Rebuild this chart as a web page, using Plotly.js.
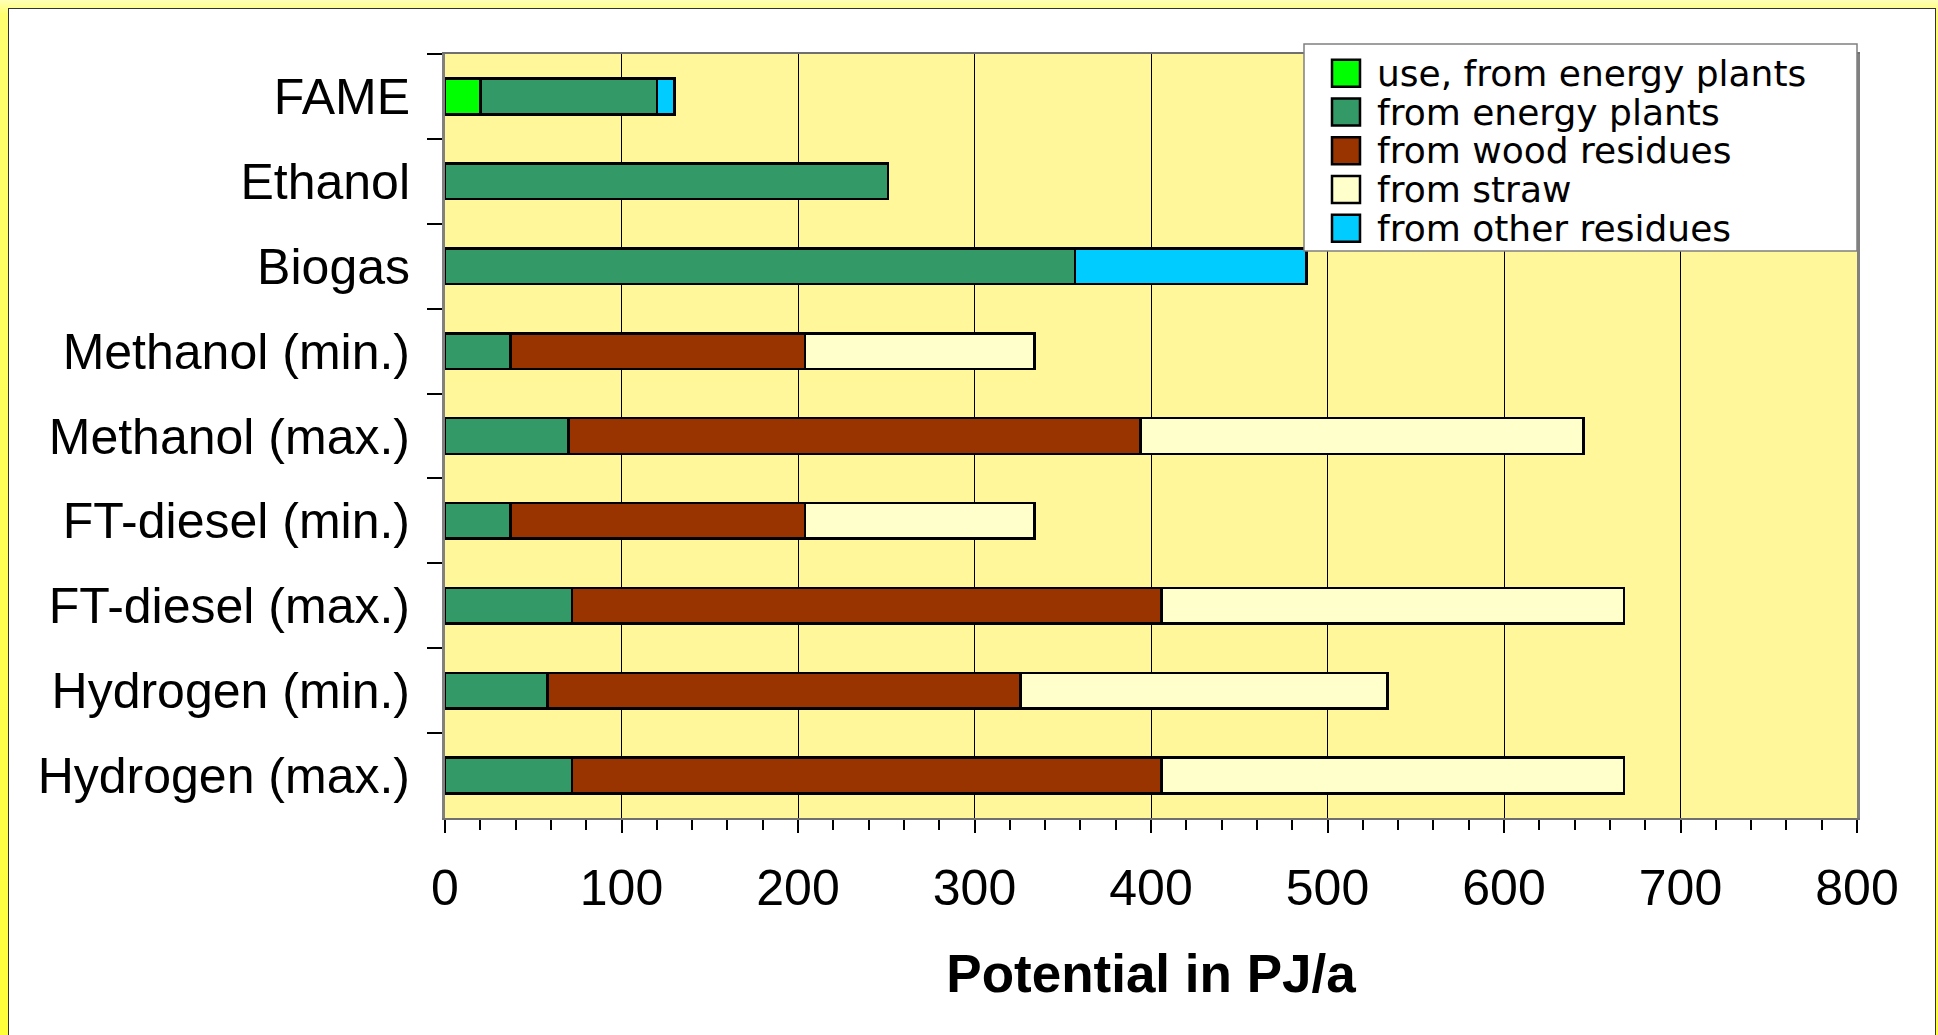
<!DOCTYPE html>
<html>
<head>
<meta charset="utf-8">
<script src="https://cdn.plot.ly/plotly-3.0.1.min.js"></script>
<style>
  html, body {
    margin: 0; padding: 0; width: 1938px; height: 1035px; overflow: hidden;
    background: linear-gradient(to bottom, #FFFFB8 0px, #FFFF70 14px, #FFFF3A 100%);
  }
  #frame {
    position: absolute; left: 8px; top: 8px; width: 1928px; height: 1027px;
    box-sizing: border-box; border: 1px solid #333; border-bottom: none; background: #fff;
  }
  #chart { position: absolute; left: 0; top: 0; }
</style>
</head>
<body>
<div id="frame"><div id="chart"></div></div>
<script>
// Fuel pathways (top to bottom)
const categories = [
  "FAME", "Ethanol", "Biogas",
  "Methanol (min.)", "Methanol (max.)",
  "FT-diesel (min.)", "FT-diesel (max.)",
  "Hydrogen (min.)", "Hydrogen (max.)"
];

// Potential in PJ/a per feedstock (null = no contribution)
const useFromEnergyPlants = [20, null, null, null, null, null, null, null, null];
const fromEnergyPlants    = [100, 251, 357, 37, 70, 37, 72, 58, 72];
const fromWoodResidues    = [null, null, null, 167, 324, 167, 334, 268, 334];
const fromStraw           = [null, null, null, 130, 251, 130, 262, 208, 262];
const fromOtherResidues   = [10, null, 131, null, null, null, null, null, null];

const seriesNames  = ["use, from energy plants", "from energy plants", "from wood residues", "from straw", "from other residues"];
const seriesValues = [useFromEnergyPlants, fromEnergyPlants, fromWoodResidues, fromStraw, fromOtherResidues];
const seriesColors = ["#00FF00", "#339966", "#993300", "#FFFFCC", "#00CCFF"];

const xTickValues = [0, 100, 200, 300, 400, 500, 600, 700, 800];

// Figure geometry (px)
const W = 1926, H = 1026;
const M = { l: 436, r: 78, t: 45, b: 217 };
const plotW = W - M.l - M.r;
const plotH = H - M.t - M.b;
const px = x => (x - M.l) / plotW;          // div px -> paper x
const py = y => 1 - (y - M.t) / plotH;      // div px -> paper y

const FONT = "Liberation Sans, Arial, sans-serif";

const traces = seriesNames.map((name, i) => ({
  type: "bar",
  orientation: "h",
  name: name,
  y: categories,
  x: seriesValues[i],
  marker: { color: seriesColors[i], line: { color: "#000", width: 2.5 } },
  showlegend: false,
  hovertemplate: "%{y}<br>" + name + ": %{x} PJ/a<extra></extra>"
}));

// Boxed key in the upper right corner of the plot area
const key = { left: 1295, right: 1848, top: 35, bottom: 242,
              swX0: 1323, swX1: 1351, swH: 27, textX: 1366, row0: 64.3, pitch: 38.75 };

const shapes = [{
  type: "rect", xref: "paper", yref: "paper", layer: "above",
  x0: px(key.left), x1: px(key.right), y0: py(key.bottom), y1: py(key.top),
  fillcolor: "#FFFFFF", line: { color: "#808080", width: 1.5 }
}];
const annotations = [];
seriesNames.forEach((name, i) => {
  const cy = key.row0 + i * key.pitch;
  shapes.push({
    type: "rect", xref: "paper", yref: "paper", layer: "above",
    x0: px(key.swX0), x1: px(key.swX1),
    y0: py(cy + key.swH / 2), y1: py(cy - key.swH / 2),
    fillcolor: seriesColors[i], line: { color: "#000", width: 2.5 }
  });
  annotations.push({
    xref: "paper", yref: "paper", x: px(key.textX), y: py(cy),
    xanchor: "left", yanchor: "middle", showarrow: false,
    text: name, font: { family: "DejaVu Sans, sans-serif", size: 36, color: "#000" }
  });
});

const layout = {
  width: W, height: H,
  margin: M,
  paper_bgcolor: "#FFFFFF",
  plot_bgcolor: "#FFF799",
  barmode: "stack",
  bargap: 0.58,
  showlegend: false,
  font: { family: FONT, color: "#000" },
  xaxis: {
    range: [0, 800],
    tickmode: "array", tickvals: xTickValues, ticktext: xTickValues.map(String),
    ticks: "outside", ticklen: 13, tickwidth: 1.5, tickcolor: "#000",
    tickfont: { family: FONT, size: 50, color: "#000" },
    ticklabelstandoff: 12,
    showgrid: true, gridcolor: "#000", gridwidth: 1,
    zeroline: false,
    showline: true, linecolor: "#707070", linewidth: 2, mirror: true,
    minor: { ticks: "outside", ticklen: 10, tickwidth: 1.5, tickcolor: "#000", dtick: 20, showgrid: false },
    title: { text: "Potential in PJ/a", font: { family: FONT, size: 53, weight: "bold", color: "#000" }, standoff: 40 },
    automargin: false, fixedrange: true
  },
  yaxis: {
    type: "category",
    autorange: "reversed",
    tickson: "boundaries",
    ticks: "outside", ticklen: 15, tickwidth: 1.5, tickcolor: "#000",
    tickfont: { family: FONT, size: 50, color: "#000" },
    ticklabelstandoff: 22,
    showgrid: false, zeroline: false,
    showline: true, linecolor: "#808080", linewidth: 3, mirror: true,
    automargin: false, fixedrange: true
  },
  shapes: shapes,
  annotations: annotations
};

Plotly.newPlot("chart", traces, layout, { displayModeBar: false });
</script>
</body>
</html>
